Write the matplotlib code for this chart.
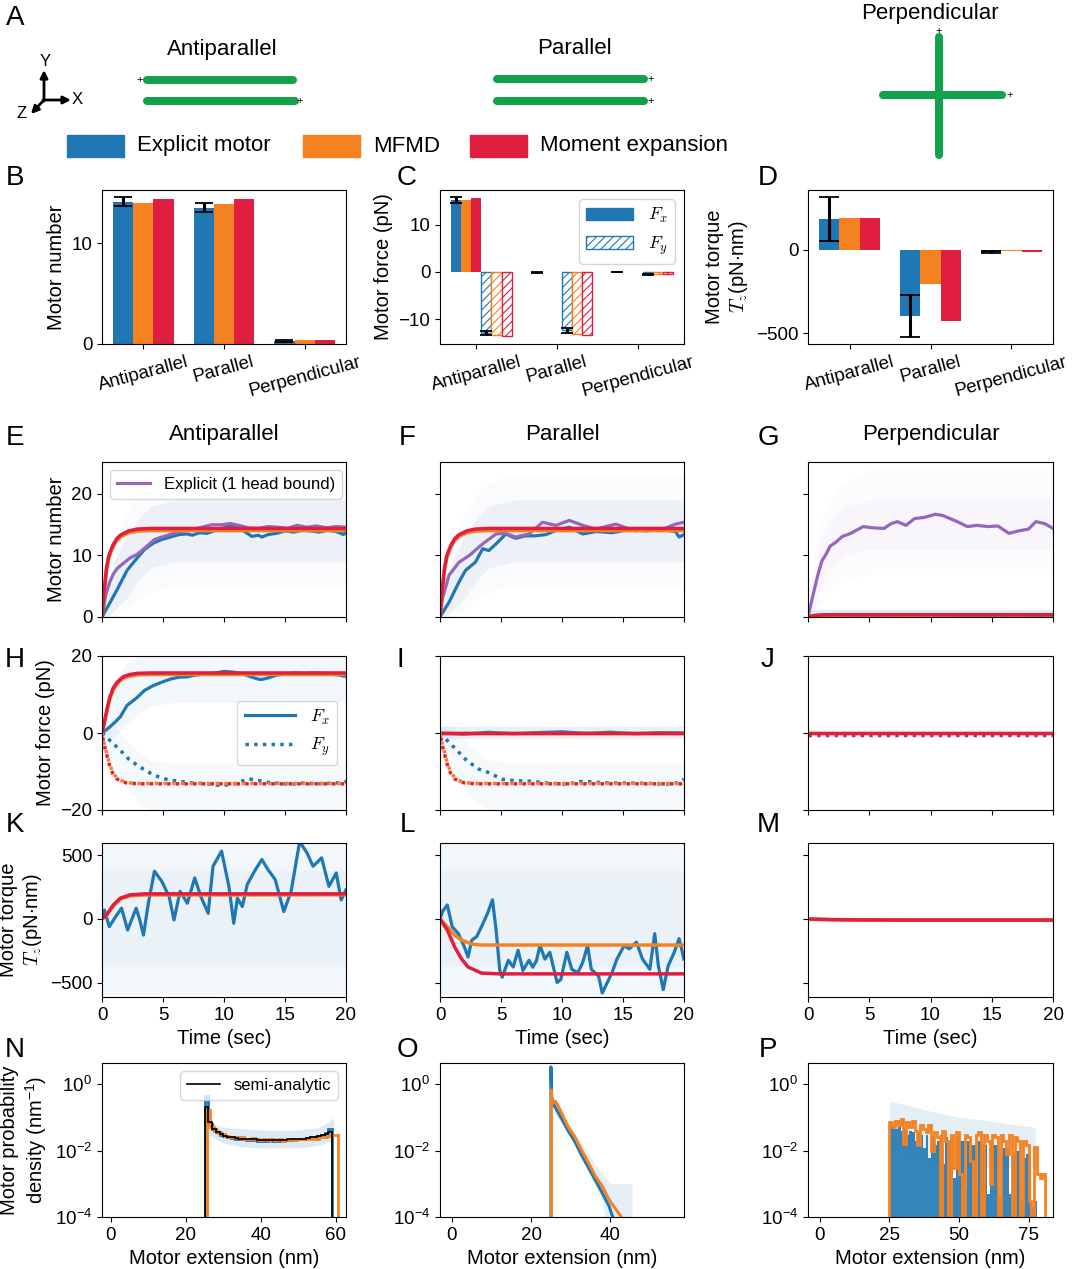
import numpy as np
import matplotlib
matplotlib.use('Agg')
import matplotlib.pyplot as plt
from matplotlib.patches import Patch, Rectangle
from matplotlib.lines import Line2D
from matplotlib.ticker import NullLocator

plt.rcParams['font.family'] = ['Liberation Sans', 'DejaVu Sans']
plt.rcParams['mathtext.fontset'] = 'custom'
plt.rcParams['mathtext.rm'] = 'Liberation Sans'
plt.rcParams['mathtext.it'] = 'Liberation Sans:italic'
plt.rcParams['hatch.linewidth'] = 0.8
plt.rcParams['xtick.labelsize'] = 13.5
plt.rcParams['ytick.labelsize'] = 13.5
plt.rcParams['axes.labelsize'] = 14.5
plt.rcParams['legend.fontsize'] = 12

C_EXP = '#1f77b4'
C_MF = '#f58220'
C_ME = '#e01e40'
C_PUR = '#9467bd'
C_FIL = '#13a24b'

# ---------------- data ----------------
cats = ['Antiparallel', 'Parallel', 'Perpendicular']

# B: motor number
num_exp = [14.1, 13.5, 0.30]
num_exp_err = [0.45, 0.45, 0.08]
num_mf = [14.0, 13.9, 0.38]
num_me = [14.4, 14.35, 0.38]

# C: motor force
fx_exp = [15.2, -0.15, 0.05]
fx_exp_err = [0.6, 0.15, 0.05]
fx_mf = [15.2, 0.0, 0.08]
fx_me = [15.6, 0.0, 0.08]
fy_exp = [-12.9, -12.3, -0.5]
fy_exp_err = [0.4, 0.5, 0.1]
fy_mf = [-13.2, -13.05, -0.5]
fy_me = [-13.5, -13.4, -0.5]

# D: motor torque
tq_exp = [186, -394, -10]
tq_exp_err = [130, 126, 6]
tq_mf = [190, -204, -4]
tq_me = [190, -426, -12]

# E/F/G: motor number vs time
t_num_fit = [0, 0.1, 0.2, 0.37, 0.55, 0.75, 0.93, 1.2, 1.5, 1.78, 2.2, 2.9, 4, 20]
num_me_fit = [0, 2.5, 4.8, 8.0, 9.9, 11.0, 11.8, 12.7, 13.3, 13.6, 14.0, 14.3, 14.4, 14.4]
num_mf_fit = [0, 2.3, 4.5, 7.6, 9.5, 10.7, 11.5, 12.4, 13.0, 13.3, 13.7, 13.95, 14.05, 14.05]

t_e_exp = [0, 0.5, 1.2, 2.06, 2.8, 3.5, 4.2, 4.9, 5.6, 6.3, 7.0, 7.4, 8.0, 8.6, 9.3, 10.0,
           10.5, 11.0, 11.6, 12.3, 12.8, 13.1, 13.6, 14.3, 15.0, 15.7, 16.4, 17.1, 17.8,
           18.5, 19.2, 19.8, 20]
e_exp = [0, 1.8, 4.3, 7.6, 9.4, 11.0, 12.0, 12.6, 13.0, 13.4, 13.5, 13.3, 13.7, 13.6, 14.1,
         14.5, 14.8, 14.6, 14.0, 13.1, 13.3, 13.0, 13.4, 13.6, 14.0, 13.8, 14.1, 14.0, 13.8,
         14.1, 13.9, 13.4, 13.9]
t_e_one = [0, 0.3, 0.6, 0.93, 1.3, 1.8, 2.3, 2.9, 3.5, 4.3, 4.9, 5.4, 6.2, 7.4, 8.2, 9.0,
           9.8, 10.5, 11.2, 12.0, 12.8, 13.6, 14.4, 15.2, 16.0, 16.8, 17.6, 18.4, 19.2, 20]
e_one = [0, 3.5, 5.5, 7.0, 8.0, 8.8, 9.6, 10.2, 11.2, 12.6, 13.0, 13.3, 13.8, 14.2, 14.6,
         15.0, 15.0, 15.2, 14.9, 14.5, 14.4, 14.7, 14.6, 14.4, 14.9, 14.6, 14.8, 14.5, 14.7, 14.6]

t_f_exp = [0, 0.74, 1.56, 2.1, 2.9, 3.5, 4.0, 4.6, 5.4, 6.2, 7.0, 7.8, 8.7, 9.5, 10.6,
           11.7, 12.8, 14.1, 15.5, 16.9, 18.2, 19.3, 19.6, 20]
f_exp = [0, 2.4, 5.7, 7.6, 8.9, 11.1, 10.8, 11.9, 13.5, 12.8, 13.2, 13.2, 13.4, 14.1, 14.6,
         13.5, 13.9, 13.7, 14.2, 14.0, 14.2, 13.9, 13.0, 13.4]
t_f_one = [0, 0.2, 0.74, 1.56, 2.4, 3.5, 4.6, 5.4, 6.2, 7.3, 8.4, 9.5, 10.6, 11.7, 12.8,
           14.4, 16.0, 17.1, 18.2, 19.3, 20]
f_one = [0, 3.0, 6.8, 8.9, 10.0, 11.9, 13.5, 13.6, 13.0, 13.5, 15.4, 14.9, 15.7, 14.9, 14.3,
         15.1, 14.0, 14.4, 14.2, 15.1, 15.4]

t_g_one = [0, 0.4, 0.8, 1.13, 1.5, 1.8, 2.3, 2.8, 3.5, 4.5, 5.3, 6.2, 6.8, 7.3, 8.0, 8.7,
           9.5, 10.4, 11.0, 11.6, 12.3, 13.0, 13.8, 14.7, 15.5, 16.4, 17.2, 18.0, 18.6, 19.3, 20]
g_one = [0, 3.5, 6.8, 9.1, 10.3, 11.5, 12.2, 13.1, 13.6, 14.7, 14.5, 14.4, 15.2, 15.5, 14.9,
         16.0, 16.2, 16.7, 16.5, 16.0, 15.4, 14.7, 14.9, 14.7, 14.8, 13.6, 14.0, 14.3, 15.5,
         15.2, 14.4]
t_g_fit = [0, 0.5, 1, 2, 20]
g_me = [0, 0.25, 0.33, 0.38, 0.38]
g_mf = [0, 0.2, 0.28, 0.34, 0.35]
t_g_exp = [0, 2, 5, 8, 11, 14, 17, 20]
g_exp = [0, 0.3, 0.25, 0.35, 0.3, 0.22, 0.3, 0.25]

# faint envelopes of individual runs
t_cl = [0, 0.5, 1, 2, 3, 4, 6, 20]
num_cl_lo = [0, 0, 0, 1, 3, 4, 5, 5]
num_cl_hi = [2, 8, 12, 17, 20, 22, 23, 23]
num_core_lo = [0, 0, 1, 3, 6, 8, 9, 9]
num_core_hi = [1, 5, 9, 13, 16, 18, 19, 19]
t_gcl = [0, 0.5, 1, 2, 3, 5, 20]
g_cl_lo = [0, 0, 2, 4, 6, 7, 7]
g_cl_hi = [2, 10, 16, 20, 22, 24, 24]
g_core_lo = [0, 1, 5, 8, 10, 11, 11]
g_core_hi = [1, 7, 12, 16, 18, 19, 19]

# H/I/J: motor force vs time
t_fx_fit = [0, 0.15, 0.3, 0.45, 0.65, 0.9, 1.2, 1.5, 1.8, 2.3, 2.9, 4, 20]
fx_me_fit = [0, 2.2, 4.5, 6.8, 9.4, 11.6, 13.0, 14.0, 14.7, 15.2, 15.5, 15.6, 15.6]
fx_mf_fit = [0, 2.0, 4.2, 6.4, 8.9, 11.1, 12.6, 13.6, 14.3, 14.8, 15.1, 15.2, 15.2]
t_fy_fit = [0, 0.1, 0.25, 0.37, 0.5, 0.65, 0.9, 1.2, 1.6, 2.06, 3, 20]
fy_me_fit = [0, -1.9, -4.0, -5.4, -7.0, -8.8, -10.6, -11.9, -12.6, -13.0, -13.2, -13.2]
fy_mf_fit = [0, -1.7, -3.7, -5.1, -6.6, -8.4, -10.2, -11.6, -12.4, -12.9, -13.1, -13.1]

t_h_fx = [0, 0.5, 1.0, 1.5, 2.06, 2.8, 3.5, 4.2, 4.9, 5.6, 6.3, 7.0, 7.6, 8.6, 9.3, 10.0,
          10.8, 11.5, 12.2, 12.8, 13.1, 13.6, 14.3, 15.0, 15.8, 16.5, 17.2, 18.0, 18.8, 19.5, 20]
h_fx = [0, 1.2, 2.6, 4.2, 7.2, 9.0, 11.1, 12.3, 13.2, 14.0, 14.5, 14.6, 15.0, 15.4, 15.6,
        16.0, 15.8, 15.4, 14.6, 14.0, 13.9, 14.3, 15.0, 15.3, 15.6, 15.4, 15.6, 15.5, 15.3, 15.0, 14.7]
t_h_fy = [0, 0.5, 1.0, 1.5, 2.2, 2.9, 3.6, 4.3, 5.0, 5.7, 6.5, 7.5, 8.6, 9.6, 10.7, 11.4,
          12.0, 12.8, 13.6, 14.5, 15.5, 16.5, 17.5, 18.5, 19.5, 20]
h_fy = [0, -1.5, -3.0, -4.5, -6.8, -8.4, -9.8, -11.0, -11.8, -12.3, -12.6, -13.0, -13.2,
        -13.6, -13.4, -12.6, -11.9, -12.3, -12.8, -13.1, -13.3, -13.0, -13.2, -13.1, -12.9, -12.6]
t_i_fx = [0, 2, 4, 6, 8, 10, 12, 14, 16, 18, 20]
i_fx = [0, -0.3, 0.2, -0.2, 0.1, 0.3, -0.1, 0.2, -0.2, 0.1, 0]
t_i_fy = [0, 0.33, 1.3, 2.2, 3.2, 4.0, 5.1, 6.2, 7.3, 8.5, 10.0, 11.0, 11.7, 12.8, 14.0,
          15.5, 17.0, 18.5, 19.5, 20]
i_fy = [0, -1.1, -4.2, -7.2, -9.4, -10.3, -12.0, -12.4, -12.5, -12.9, -13.3, -13.0, -12.5,
        -12.8, -13.0, -13.0, -13.1, -13.3, -12.9, -12.0]
t_flat = [0, 20]
zero_flat = [0, 0]
j_fy = [-0.4, -0.4]

t_fcl = [0, 1, 2, 3, 4, 6, 20]
fx_cl_lo = [-2, -1, 2, 5, 7, 8, 8]
fx_cl_hi = [2, 12, 18, 20, 20, 20, 20]
fy_cl_lo = [-2, -8, -14, -18, -20, -20, -20]
fy_cl_hi = [2, 2, -2, -5, -7, -8, -8]
fx_par_lo = [-1.5, -1.5]
fx_par_hi = [1.5, 1.5]
f_perp_lo = [-0.8, -0.8]
f_perp_hi = [0.8, 0.8]

# K/L/M: torque vs time
t_k_fit = [0, 0.37, 0.93, 1.5, 2.3, 3.5, 20]
k_me = [0, 32, 111, 164, 190, 198, 198]
k_mf = [0, 28, 102, 156, 182, 189, 190]
t_k_exp = [0, 0.2, 0.6, 1.2, 1.6, 2.1, 2.8, 3.1, 3.4, 3.8, 4.3, 4.9, 5.5, 5.9, 6.4, 7.0,
           7.6, 8.1, 8.7, 9.1, 9.8, 10.4, 10.8, 11.1, 11.5, 11.9, 12.5, 13.1, 13.6, 14.2,
           14.9, 15.5, 16.2, 16.8, 17.3, 18.0, 18.6, 19.2, 19.6, 20.0]
k_exp = [0, 70, -60, 30, 85, -87, 85, -8, -127, 124, 376, 296, 177, -8, 217, 124, 323, 177,
         45, 415, 534, 257, -34, 164, 98, 270, 376, 468, 389, 310, 58, 217, 608, 521, 415,
         481, 257, 362, 150, 230]
t_l_fit = [0, 0.6, 1.2, 1.75, 2.3, 3.4, 4.9, 20]
l_me = [0, -87, -220, -312, -378, -426, -432, -432]
t_l_mf = [0, 0.6, 1.2, 1.8, 2.6, 3.4, 20]
l_mf = [0, -61, -127, -167, -198, -205, -205]
t_l_exp = [0, 0.2, 0.6, 1.0, 1.5, 2.0, 2.3, 2.6, 3.0, 3.4, 3.9, 4.3, 4.6, 4.9, 5.1, 5.6,
           6.0, 6.4, 6.8, 7.3, 7.6, 7.9, 8.2, 8.6, 9.0, 9.6, 9.9, 10.4, 10.8, 11.3, 11.7,
           12.1, 12.4, 13.0, 13.3, 13.7, 14.1, 14.5, 15.1, 15.5, 16.1, 16.6, 17.2, 17.6,
           17.9, 18.3, 18.7, 19.2, 19.6, 20.0]
l_exp = [0, 58, 111, -61, -114, -220, -299, -167, -140, -61, 45, 151, -87, -405, -458,
         -325, -378, -246, -405, -325, -380, -330, -208, -316, -262, -500, -476, -262, -396,
         -422, -342, -209, -396, -449, -583, -503, -422, -316, -209, -235, -182, -316, -396,
         -115, -369, -556, -369, -262, -155, -316]
t_m = [0, 1, 2, 4, 8, 20]
m_me = [0, -3, -6, -8, -9, -9]
m_mf = [0, -2, -4, -5, -6, -6]
tq_cl_lo = [-600, -600]
tq_cl_hi = [600, 600]
tq_core_lo = [-380, -380]
tq_core_hi = [380, 380]
m_cl_lo = [-30, -30]
m_cl_hi = [10, 10]

# N/O/P: extension histograms
n_mf_edges = np.arange(25.5, 61.0, 1.0)
n_mf = [0.17, 0.05, 0.04, 0.034, 0.031, 0.028, 0.026, 0.025, 0.024, 0.025, 0.023, 0.022,
        0.024, 0.022, 0.021, 0.022, 0.021, 0.022, 0.021, 0.022, 0.019, 0.021, 0.022, 0.021,
        0.022, 0.023, 0.022, 0.023, 0.024, 0.023, 0.025, 0.026, 0.027, 0.030, 0.030]
n_edges = np.arange(25.0, 60.0, 1.0)
n_semi = [0.2, 0.07, 0.045, 0.036, 0.031, 0.028, 0.026, 0.025, 0.024, 0.023, 0.023, 0.022,
          0.022, 0.022, 0.021, 0.021, 0.021, 0.021, 0.021, 0.021, 0.021, 0.021, 0.022, 0.022,
          0.022, 0.023, 0.023, 0.024, 0.025, 0.026, 0.027, 0.029, 0.031, 0.035]
n_exp = [0.45, 0.065, 0.043, 0.035, 0.030, 0.027, 0.025, 0.024, 0.023, 0.022, 0.022, 0.021,
         0.021, 0.021, 0.020, 0.020, 0.020, 0.021, 0.020, 0.020, 0.021, 0.021, 0.021, 0.022,
         0.022, 0.022, 0.023, 0.024, 0.025, 0.026, 0.028, 0.030, 0.034, 0.045]
n_band_x = [25, 26, 28, 30, 35, 40, 45, 50, 55, 58, 59.3]
n_band_hi = [0.3, 0.1, 0.06, 0.05, 0.045, 0.042, 0.04, 0.042, 0.048, 0.07, 0.1]
n_band_lo = [0.05, 0.03, 0.022, 0.017, 0.013, 0.012, 0.012, 0.012, 0.014, 0.018, 0.02]

o_mf_x = [25.1, 25.1, 25.3, 26.2, 27.5, 29.3, 31.0, 32.7, 34.5, 36.2, 38.0, 39.7, 41.4, 42.8, 43.2]
o_mf = [1e-6, 0.66, 0.26, 0.3, 0.15, 0.052, 0.026, 0.0105, 0.0042, 0.0017, 0.00083,
        0.00033, 0.00017, 0.0001, 1e-6]
o_exp_x = [25.0, 25.0, 25.2, 25.8, 27.5, 29.3, 31.0, 32.7, 34.5, 36.2, 38.0, 39.7, 40.6, 41.0]
o_exp = [1e-6, 3.3, 0.4, 0.23, 0.1, 0.04, 0.019, 0.0074, 0.003, 0.0013, 0.00052, 0.00021,
         0.0001, 1e-6]
o_band_x = [25.5, 28, 30, 32, 34, 36, 38, 40, 42, 44, 45.5]
o_band_hi = [0.4, 0.12, 0.05, 0.022, 0.01, 0.004, 0.002, 0.001, 0.001, 0.001, 0.001]
o_band_lo = [0.15, 0.06, 0.025, 0.01, 0.003, 0.0009, 0.0003, 1e-5, 1e-5, 1e-5, 1e-5]

p_exp_edges = np.arange(25.0, 79.0, 1.0)
p_exp = [0.06, 0.05, 0.045, 0.05, 0.04, 0.045, 0.03, 0.04, 0.035, 0.02, 0.035, 0.03,
         0.012, 0.03, 0.006, 0.025, 0.015, 0.02, 0.03, 0.004, 0.025, 0.02, 0.02, 0.0015,
         0.025, 0.02, 0.02, 0.0008, 0.02, 0.015, 0.015, 0.0006, 0.02, 0.015, 0.015, 0.0005,
         0.012, 0.015, 0.015, 0.0004, 0.01, 0.012, 0.012, 0.0005, 0.008, 0.01, 0.01,
         0.0003, 0.006, 0.008, 0.008, 0.0002, 0.0003]
p_mf_edges = np.arange(25.0, 82.0, 1.0)
p_mf = [0.07, 0.05, 0.08, 0.06, 0.09, 0.016, 0.07, 0.05, 0.08, 0.04, 0.015, 0.06, 0.045,
        0.035, 0.06, 0.01, 0.035, 0.025, 1e-5, 0.04, 0.02, 1e-5, 0.03, 0.003, 0.035, 0.002,
        1e-5, 0.03, 0.025, 0.005, 1e-5, 0.03, 0.035, 1e-5, 0.03, 0.02, 0.001, 0.03, 0.025,
        1e-5, 0.03, 0.02, 0.008, 0.03, 1e-5, 0.025, 0.02, 1e-5, 0.02, 0.015, 0.0003, 1e-5,
        0.013, 0.002, 0.0015, 0.002]
p_band_x = [25, 30, 40, 50, 60, 70, 77.5]
p_band_hi = [0.3, 0.25, 0.15, 0.1, 0.08, 0.06, 0.05]
p_band_lo = [0.01, 0.01, 0.005, 0.003, 0.003, 0.003, 0.003]

# panel A schematic (pixel coordinates of the top strip)
fil_segments = [[(147, 80), (293, 80)], [(147, 101), (295, 101)],
                [(497, 79), (644, 79)], [(497, 101), (644, 101)],
                [(939, 37), (939, 155)], [(883, 95), (1002, 95)]]
plus_marks = [(140, 80), (300, 101), (651, 79), (651, 101), (939, 31), (1010, 95)]

# ---------------- figure ----------------
W, H = 1079, 1269
fig = plt.figure(figsize=(W / 100, H / 100), dpi=100)


def box(x0, y0, x1, y1):
    return fig.add_axes([x0 / W, 1 - y1 / H, (x1 - x0) / W, (y1 - y0) / H])


cols = [(102, 346), (440, 684), (808, 1053)]
rows = [(190, 344), (462, 617), (656, 810), (843, 997), (1063, 1217)]

# panel A
axA = box(0, 0, W, 170)
axA.set_xlim(0, W)
axA.set_ylim(170, 0)
axA.axis('off')
for seg in fil_segments:
    (xa, ya), (xb, yb) = seg
    axA.plot([xa, xb], [ya, yb], color=C_FIL, lw=5.8, solid_capstyle='round')
for px, py in plus_marks:
    axA.text(px, py, '+', fontsize=8, ha='center', va='center')
axA.text(222, 49, 'Antiparallel', fontsize=16, ha='center', va='center')
axA.text(574, 48, 'Parallel', fontsize=16, ha='center', va='center')
axA.text(930, 13, 'Perpendicular', fontsize=16, ha='center', va='center')
arr = dict(arrowstyle='-|>', color='k', lw=2, mutation_scale=11, shrinkA=0, shrinkB=0)
axA.annotate('', xy=(44, 70), xytext=(44, 101), arrowprops=arr)
axA.annotate('', xy=(71, 100), xytext=(43, 100), arrowprops=arr)
axA.annotate('', xy=(31, 114), xytext=(44, 100), arrowprops=arr)
axA.text(45, 62, 'Y', fontsize=12, ha='center', va='center')
axA.text(77, 99, 'X', fontsize=12, ha='center', va='center')
axA.text(22, 114, 'Z', fontsize=12, ha='center', va='center')
for xl, col, lab in [(67, C_EXP, 'Explicit motor'), (303, C_MF, 'MFMD'),
                     (470, C_ME, 'Moment expansion')]:
    axA.add_patch(Rectangle((xl, 135), 57, 22, color=col))
    axA.text(xl + 70, 146, lab, fontsize=16, va='center')

# panel letters
letters = [('A', 15, 18), ('B', 15, 178), ('C', 407, 178), ('D', 768, 178),
           ('E', 15, 438), ('F', 407, 438), ('G', 768, 438),
           ('H', 15, 660), ('I', 400, 660), ('J', 768, 660),
           ('K', 15, 825), ('L', 407, 825), ('M', 768, 825),
           ('N', 15, 1050), ('O', 407, 1050), ('P', 768, 1050)]
for s, lx, ly in letters:
    fig.text(lx / W, 1 - ly / H, s, fontsize=20, ha='center', va='center')

x = np.arange(3)
ekw = dict(elinewidth=2.2, capthick=1.3, ecolor='k')

# B
axB = box(cols[0][0], rows[0][0], cols[0][1], rows[0][1])
axB.bar(x - 0.25, num_exp, 0.25, color=C_EXP, yerr=num_exp_err, capsize=6.5, error_kw=ekw)
axB.bar(x, num_mf, 0.25, color=C_MF)
axB.bar(x + 0.25, num_me, 0.25, color=C_ME)
axB.set_ylim(0, 15.25)
axB.set_yticks([0, 10])
axB.set_ylabel('Motor number')

# C
w = 0.125
axC = box(cols[1][0], rows[0][0], cols[1][1], rows[0][1])
axC.bar(x - 2 * w, fx_exp, w, color=C_EXP, yerr=fx_exp_err, capsize=4, error_kw=ekw)
axC.bar(x - w, fx_mf, w, color=C_MF)
axC.bar(x, fx_me, w, color=C_ME)
axC.bar(x + w, fy_exp, w, facecolor='white', edgecolor=C_EXP, hatch='////', lw=1,
        yerr=fy_exp_err, capsize=4, error_kw=ekw)
axC.bar(x + 2 * w, fy_mf, w, facecolor='white', edgecolor=C_MF, hatch='////', lw=1)
axC.bar(x + 3 * w, fy_me, w, facecolor='white', edgecolor=C_ME, hatch='////', lw=1)
axC.set_ylim(-15.2, 17.3)
axC.set_yticks([-10, 0, 10])
axC.set_ylabel('Motor force (pN)')
legC = axC.legend([Patch(color=C_EXP),
                   Patch(facecolor='white', edgecolor=C_EXP, hatch='////')],
                  ['$F_x$', '$F_y$'], loc='upper right', fontsize=13, handlelength=2.6)
for t in legC.get_texts():
    t.set_math_fontfamily('cm')

# D
axD = box(cols[2][0], rows[0][0], cols[2][1], rows[0][1])
axD.bar(x - 0.25, tq_exp, 0.25, color=C_EXP, yerr=tq_exp_err, capsize=7, error_kw=ekw)
axD.bar(x, tq_mf, 0.25, color=C_MF)
axD.bar(x + 0.25, tq_me, 0.25, color=C_ME)
axD.set_ylim(-564, 360)
axD.set_yticks([-500, 0])
ylD = axD.set_ylabel('Motor torque\n$T_z$(pN$\\cdot$nm)')
ylD.set_math_fontfamily('cm')

for ax in (axB, axC, axD):
    ax.set_xticks(x)
    ax.set_xticklabels(cats, rotation=15)


def cloud(ax, t, lo, hi, col, a=0.05):
    ax.fill_between(t, lo, hi, color=col, alpha=a, lw=0)


# E/F/G
axE = box(cols[0][0], rows[1][0], cols[0][1], rows[1][1])
axF = box(cols[1][0], rows[1][0], cols[1][1], rows[1][1])
axG = box(cols[2][0], rows[1][0], cols[2][1], rows[1][1])
for ax, te, ve, to, vo in [(axE, t_e_exp, e_exp, t_e_one, e_one),
                           (axF, t_f_exp, f_exp, t_f_one, f_one)]:
    cloud(ax, t_cl, num_cl_lo, num_cl_hi, C_EXP, 0.025)
    cloud(ax, t_cl, num_core_lo, num_core_hi, C_PUR, 0.04)
    cloud(ax, t_cl, num_core_lo, num_core_hi, C_EXP, 0.035)
    ax.plot(te, ve, color=C_EXP, lw=2.3)
    ax.plot(to, vo, color=C_PUR, lw=2.3)
    ax.plot(t_num_fit, num_mf_fit, color=C_MF, lw=2.5)
    ax.plot(t_num_fit, num_me_fit, color=C_ME, lw=2.5)
cloud(axG, t_gcl, g_cl_lo, g_cl_hi, C_PUR, 0.025)
cloud(axG, t_gcl, g_core_lo, g_core_hi, C_PUR, 0.03)
cloud(axG, [0, 20], [0, 0], [1.2, 1.2], C_EXP, 0.12)
axG.plot(t_g_exp, g_exp, color=C_EXP, lw=2.3)
axG.plot(t_g_one, g_one, color=C_PUR, lw=2.3)
axG.plot(t_g_fit, g_mf, color=C_MF, lw=2.5)
axG.plot(t_g_fit, g_me, color=C_ME, lw=2.5)
axE.set_ylabel('Motor number')
axE.legend([Line2D([], [], color=C_PUR, lw=2.3)], ['Explicit (1 head bound)'],
           loc='upper left')
for ax, title in zip((axE, axF, axG), cats):
    ax.set_title(title, fontsize=16, pad=16)
    ax.set_ylim(0, 25.2)
    ax.set_yticks([0, 10, 20])

# H/I/J
dot = (0, (1, 1.5))
axH = box(cols[0][0], rows[2][0], cols[0][1], rows[2][1])
axI = box(cols[1][0], rows[2][0], cols[1][1], rows[2][1])
axJ = box(cols[2][0], rows[2][0], cols[2][1], rows[2][1])
cloud(axH, t_fcl, fx_cl_lo, fx_cl_hi, C_EXP, 0.06)
cloud(axH, t_fcl, fy_cl_lo, fy_cl_hi, C_EXP, 0.04)
axH.plot(t_h_fx, h_fx, color=C_EXP, lw=2.3)
axH.plot(t_h_fy, h_fy, color=C_EXP, lw=2.5, ls=dot)
axH.plot(t_fx_fit, fx_mf_fit, color=C_MF, lw=2.5)
axH.plot(t_fx_fit, fx_me_fit, color=C_ME, lw=2.5)
axH.plot(t_fy_fit, fy_mf_fit, color=C_MF, lw=2.5, ls=dot)
axH.plot(t_fy_fit, fy_me_fit, color=C_ME, lw=2.5, ls=(1.2, (1, 1.5)))
cloud(axI, t_flat, fx_par_lo, fx_par_hi, C_EXP, 0.1)
cloud(axI, t_fcl, fy_cl_lo, fy_cl_hi, C_EXP, 0.04)
axI.plot(t_i_fx, i_fx, color=C_EXP, lw=2.3)
axI.plot(t_i_fy, i_fy, color=C_EXP, lw=2.5, ls=dot)
axI.plot(t_flat, zero_flat, color=C_MF, lw=2.5)
axI.plot(t_flat, zero_flat, color=C_ME, lw=2.5)
axI.plot(t_fy_fit, fy_mf_fit, color=C_MF, lw=2.5, ls=dot)
axI.plot(t_fy_fit, fy_me_fit, color=C_ME, lw=2.5, ls=(1.2, (1, 1.5)))
cloud(axJ, t_flat, f_perp_lo, f_perp_hi, C_EXP, 0.1)
axJ.plot(t_flat, zero_flat, color=C_ME, lw=2.5)
axJ.plot(t_flat, j_fy, color=C_ME, lw=2.5, ls=dot)
axH.set_ylabel('Motor force (pN)')
legH = axH.legend([Line2D([], [], color=C_EXP, lw=2.3),
                   Line2D([], [], color=C_EXP, lw=2.5, ls=dot)],
                  ['$F_x$', '$F_y$'], loc='center right', fontsize=13, handlelength=2.8)
for t in legH.get_texts():
    t.set_math_fontfamily('cm')
for ax in (axH, axI, axJ):
    ax.set_ylim(-20, 20)
    ax.set_yticks([-20, 0, 20])

# K/L/M
axK = box(cols[0][0], rows[3][0], cols[0][1], rows[3][1])
axL = box(cols[1][0], rows[3][0], cols[1][1], rows[3][1])
axM = box(cols[2][0], rows[3][0], cols[2][1], rows[3][1])
for ax in (axK, axL):
    cloud(ax, t_flat, tq_cl_lo, tq_cl_hi, C_EXP, 0.06)
    cloud(ax, t_flat, tq_core_lo, tq_core_hi, C_EXP, 0.03)
cloud(axM, t_flat, m_cl_lo, m_cl_hi, C_EXP, 0.06)
axK.plot(t_k_exp, k_exp, color=C_EXP, lw=2.3)
axK.plot(t_k_fit, k_mf, color=C_MF, lw=2.5)
axK.plot(t_k_fit, k_me, color=C_ME, lw=2.5)
axL.plot(t_l_exp, l_exp, color=C_EXP, lw=2.3)
axL.plot(t_l_mf, l_mf, color=C_MF, lw=2.5)
axL.plot(t_l_fit, l_me, color=C_ME, lw=2.5)
axM.plot(t_m, m_mf, color=C_MF, lw=2.5)
axM.plot(t_m, m_me, color=C_ME, lw=2.5)
ylK = axK.set_ylabel('Motor torque\n$T_z$(pN$\\cdot$nm)')
ylK.set_math_fontfamily('cm')
for ax in (axK, axL, axM):
    ax.set_ylim(-614, 598)
    ax.set_yticks([-500, 0, 500])
    ax.set_xlabel('Time (sec)')

for ax in (axE, axF, axG, axH, axI, axJ, axK, axL, axM):
    ax.set_xlim(0, 20)
    ax.set_xticks([0, 5, 10, 15, 20])
    if ax not in (axK, axL, axM):
        ax.set_xticklabels([])
    if ax not in (axE, axH, axK):
        ax.set_yticklabels([])

# N/O/P
axN = box(cols[0][0], rows[4][0], cols[0][1], rows[4][1])
axO = box(cols[1][0], rows[4][0], cols[1][1], rows[4][1])
axP = box(cols[2][0], rows[4][0], cols[2][1], rows[4][1])
axN.fill_between(n_band_x, n_band_lo, n_band_hi, color=C_EXP, alpha=0.15, lw=0)
axN.stairs(n_exp, n_edges, color=C_EXP, lw=2, baseline=1e-6)
axN.stairs(n_mf, n_mf_edges, color=C_MF, lw=2, baseline=1e-6)
axN.stairs(n_semi, n_edges, color='k', lw=1.2, baseline=1e-6)
axN.legend([Line2D([], [], color='k', lw=1.2)], ['semi-analytic'], loc='upper right')
axN.set_xlim(-2.4, 62.7)
axN.set_xticks([0, 20, 40, 60])
axN.set_ylabel('Motor probability\ndensity (nm$^{-1}$)')

axO.fill_between(o_band_x, o_band_lo, o_band_hi, color=C_EXP, alpha=0.12, lw=0)
axO.plot(o_exp_x, o_exp, color=C_EXP, lw=2.2)
axO.plot(o_mf_x, o_mf, color=C_MF, lw=2.2)
axO.set_xlim(-3, 58.6)
axO.set_xticks([0, 20, 40])

axP.fill_between(p_band_x, p_band_lo, p_band_hi, color=C_EXP, alpha=0.12, lw=0)
axP.stairs(p_exp, p_exp_edges, color=C_EXP, fill=True, baseline=1e-6, alpha=0.9)
axP.stairs(p_mf, p_mf_edges, color=C_MF, lw=2, baseline=1e-6)
axP.set_xlim(-4.3, 83.8)
axP.set_xticks([0, 25, 50, 75])

for ax in (axN, axO, axP):
    ax.set_yscale('log')
    ax.set_ylim(1e-4, 4.3)
    ax.set_yticks([1e-4, 1e-2, 1])
    ax.set_yticklabels(['10$^{-4}$', '10$^{-2}$', '10$^{0}$'])
    ax.yaxis.set_minor_locator(NullLocator())
    ax.set_xlabel('Motor extension (nm)')

fig.savefig('out.png', dpi=100)
